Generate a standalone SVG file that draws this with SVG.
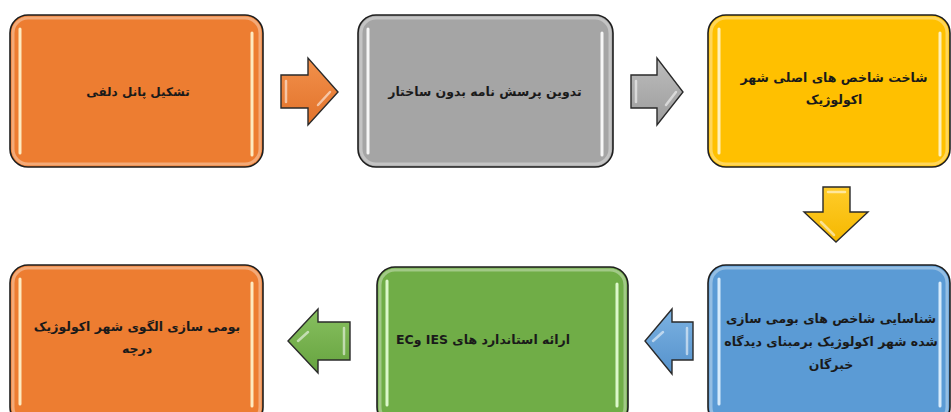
<svg xmlns="http://www.w3.org/2000/svg" width="951" height="412" viewBox="0 0 951 412">
<defs>
<style>
.box{stroke:#1e1e1e;stroke-width:1.6}
.inner{fill:none;stroke:#ffffff;stroke-opacity:0.35;stroke-width:3}
.hl{stroke:#fff6d0;stroke-width:3;stroke-linecap:round;stroke-opacity:0.9}
.arr{stroke:#2a2a2a;stroke-width:1.4;stroke-linejoin:miter}
.ahl{fill:none;stroke:#ffffff;stroke-opacity:0.55;stroke-width:2.5;stroke-linecap:round}
.t{font-family:"DejaVu Sans","Noto Sans",sans-serif;font-size:12.5px;font-weight:bold;fill:#1a1a1a;text-anchor:middle}
</style>
<linearGradient id="gO" x1="0" y1="0" x2="0" y2="1"><stop offset="0" stop-color="#f2914c"/><stop offset="1" stop-color="#e2722a"/></linearGradient>
<linearGradient id="gG" x1="0" y1="0" x2="0" y2="1"><stop offset="0" stop-color="#bdbdbd"/><stop offset="1" stop-color="#9c9c9c"/></linearGradient>
<linearGradient id="gY" x1="0" y1="0" x2="0" y2="1"><stop offset="0" stop-color="#ffcc2a"/><stop offset="1" stop-color="#f5b800"/></linearGradient>
<linearGradient id="gB" x1="0" y1="0" x2="0" y2="1"><stop offset="0" stop-color="#7cb2e2"/><stop offset="1" stop-color="#5592cc"/></linearGradient>
<linearGradient id="gN" x1="0" y1="0" x2="0" y2="1"><stop offset="0" stop-color="#88c060"/><stop offset="1" stop-color="#66a33f"/></linearGradient>
</defs>
<rect width="951" height="412" fill="#ffffff"/>

<g id="node1">
<rect class="box" x="10" y="15" width="253" height="152" rx="18" fill="#ed7d31"/>
<rect class="inner" x="13" y="18" width="247" height="146" rx="15"/>
<line class="hl" x1="20" y1="29" x2="20" y2="153"/>
<line class="hl" x1="252" y1="33" x2="252" y2="155"/>
<text class="t" x="138" y="96" direction="rtl" style="font-size:12px">تشکیل پانل دلفی</text>
</g>

<g id="node2">
<rect class="box" x="358" y="15" width="255" height="152" rx="18" fill="#a5a5a5"/>
<rect class="inner" x="361" y="18" width="249" height="146" rx="15"/>
<line class="hl" x1="368" y1="29" x2="368" y2="153" style="stroke:#ffffff"/>
<line class="hl" x1="602" y1="33" x2="602" y2="155" style="stroke:#ffffff"/>
<text class="t" x="485" y="96" direction="rtl">تدوین پرسش نامه بدون ساختار</text>
</g>

<g id="node3">
<rect class="box" x="708" y="15" width="242" height="152" rx="18" fill="#ffc000"/>
<rect class="inner" x="711" y="18" width="236" height="146" rx="15"/>
<line class="hl" x1="719" y1="29" x2="719" y2="153"/>
<line class="hl" x1="940" y1="33" x2="940" y2="155"/>
<text class="t" x="834" y="82" direction="rtl">شاخت شاخص های اصلی شهر</text>
<text class="t" x="834" y="104" direction="rtl">اکولوژیک</text>
</g>

<g id="node4">
<rect class="box" x="10" y="265" width="253" height="160" rx="18" fill="#ed7d31"/>
<rect class="inner" x="13" y="268" width="247" height="154" rx="15"/>
<line class="hl" x1="20" y1="279" x2="20" y2="404"/>
<line class="hl" x1="252" y1="283" x2="252" y2="406"/>
<text class="t" x="137" y="331" direction="rtl">بومی سازی الگوی شهر اکولوژیک</text>
<text class="t" x="137" y="353" direction="rtl">درچه</text>
</g>

<g id="node5">
<rect class="box" x="377" y="267" width="251" height="158" rx="18" fill="#70ad47"/>
<rect class="inner" x="380" y="270" width="245" height="152" rx="15"/>
<line class="hl" x1="387" y1="281" x2="387" y2="405" style="stroke:#e8ffd8"/>
<line class="hl" x1="617" y1="284" x2="617" y2="406" style="stroke:#e8ffd8"/>
<text class="t" x="483" y="344" direction="rtl" unicode-bidi="embed">ارائه استاندارد های IES وEC</text>
</g>

<g id="node6">
<rect class="box" x="708" y="265" width="242" height="160" rx="18" fill="#5b9bd5"/>
<rect class="inner" x="711" y="268" width="236" height="154" rx="15"/>
<line class="hl" x1="719" y1="279" x2="719" y2="404" style="stroke:#e4f4ff"/>
<line class="hl" x1="940" y1="283" x2="940" y2="406" style="stroke:#e4f4ff"/>
<text class="t" x="831" y="323" direction="rtl">شناسایی شاخص های بومی سازی</text>
<text class="t" x="831" y="346" direction="rtl">شده شهر اکولوژیک برمبنای دیدگاه</text>
<text class="t" x="831" y="369" direction="rtl">خبرگان</text>
</g>

<g id="connectors">
<path class="arr" d="M281,75 H308 V58 L338,92 L308,125 V108 H281 Z" fill="url(#gO)"/>
<path class="ahl" d="M286,81 V102 M318,105 L330,92"/>
<path class="arr" d="M631,75 H657 V58 L683,92 L657,125 V108 H631 Z" fill="url(#gG)"/>
<path class="ahl" d="M636,81 V102 M666,105 L676,92"/>
<path class="arr" d="M823,187 H850 V212 H868 L836,242 L804,212 H823 Z" fill="url(#gY)"/>
<path class="ahl" d="M828,192 H845 M821,222 L834,235"/>
<path class="arr" d="M350,322 H318 V309 L288,341 L318,373 V360 H350 Z" fill="url(#gN)"/>
<path class="ahl" d="M344,328 V354 M308,332 L298,341"/>
<path class="arr" d="M693,322 H672 V309 L645,341 L672,374 V360 H693 Z" fill="url(#gB)"/>
<path class="ahl" d="M687,328 V354 M663,332 L653,341"/>
</g>
</svg>
